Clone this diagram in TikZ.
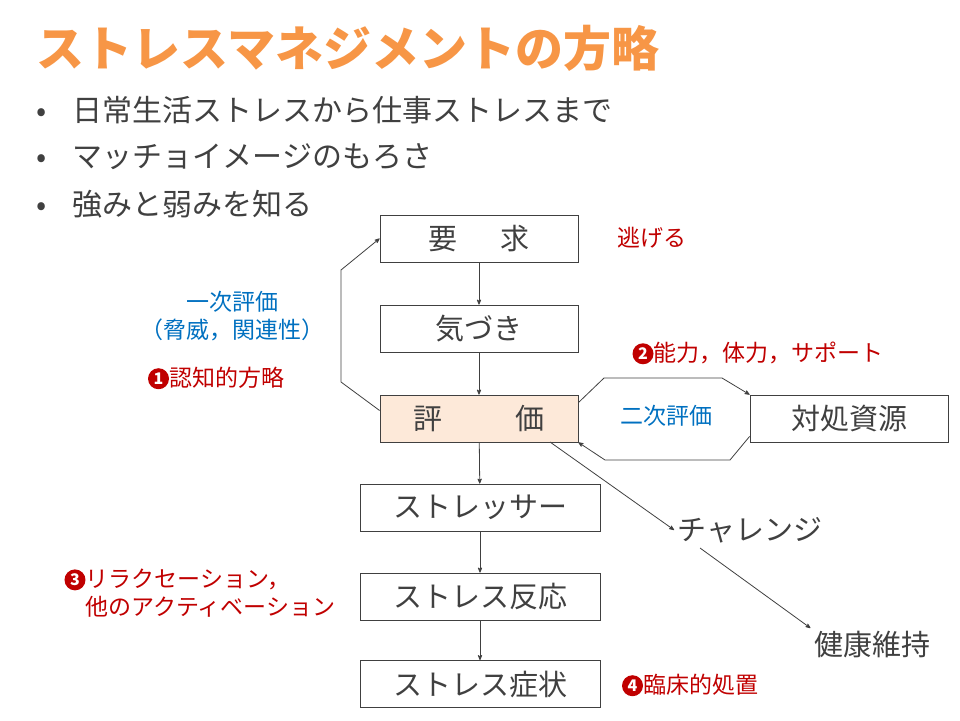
\documentclass[tikz,border=0pt]{standalone}
\usepackage{fontspec}
\setmainfont{Noto Sans CJK JP}
\usetikzlibrary{arrows}
\definecolor{titleor}{HTML}{F79646}
\definecolor{txtgray}{HTML}{404040}
\definecolor{darkred}{HTML}{C00000}
\definecolor{linkblue}{HTML}{0070C0}
\definecolor{peach}{HTML}{FDE9D9}
\tikzset{
    box/.style = {draw=txtgray, thick, minimum height=47pt, inner sep=0pt, text=txtgray, font=\fontsize{29}{32}\selectfont},
    sbox/.style = {box, minimum width=198pt},
    wbox/.style = {box, minimum width=240pt},
    bullet/.style = {anchor=west, text=txtgray, font=\fontsize{30}{34}\selectfont},
    redtxt/.style = {text=darkred, font=\fontsize{23}{28}\selectfont},
    bluetxt/.style = {text=linkblue, font=\fontsize{23}{28}\selectfont},
    conn/.style = {draw=txtgray, thick, ->, >=stealth'}
}
\newcommand{\numdot}[1]{\tikz[baseline=-0.6ex]\node[circle, fill=darkred, text=white, inner sep=0pt, minimum size=21pt, font=\bfseries\fontsize{16}{16}\selectfont] {#1};}
\begin{document}
\begin{tikzpicture}[x=1pt, y=-1pt]
    \useasboundingbox (0,0) rectangle (960,720);
    \node [anchor=west, text=titleor, font=\bfseries\fontsize{48}{52}\selectfont] (title) at (33,48) {ストレスマネジメントの方略};
    \node [bullet] (b1) at (33,110) {•\hspace{26pt}日常生活ストレスから仕事ストレスまで};
    \node [bullet] (b2) at (33,157) {•\hspace{26pt}マッチョイメージのもろさ};
    \node [bullet] (b3) at (33,204) {•\hspace{26pt}強みと弱みを知る};
    % main column
    \node [sbox] (req) at (479,238.5) {要\hspace{1.5em}求};
    \node [sbox] (aware) at (479,328.5) {気づき};
    \node [sbox, fill=peach] (eval) at (479,418.5) {評\hspace{2.5em}価};
    \node [wbox] (stressor) at (480,507.5) {ストレッサー};
    \node [wbox] (react) at (480,596.5) {ストレス反応};
    \node [wbox] (sympt) at (480,684) {ストレス症状};
    \node [sbox] (res) at (849,418.5) {対処資源};
    \draw [conn] (req) -- (aware);
    \draw [conn] (aware) -- (eval);
    \draw [conn] (eval) -- (stressor);
    \draw [conn] (stressor) -- (react);
    \draw [conn] (react) -- (sympt);
    % loops
    \draw [conn] (eval.west) ++(0,-8) -- (341,382) -- (341,270) -- (req.west);
    \draw [conn] (eval.north east) ++(0,8) -- (604,378) -- (722,378) -- (res.north west);
    \draw [conn] (res.south west) ++(0,-6) -- (730,460) -- (605,460) -- (eval.south east);
    \node [bluetxt] (second) at (666,416) {二次評価};
    % challenge branch
    \node [text=txtgray, font=\fontsize{29}{32}\selectfont] (chal) at (750,530) {チャレンジ};
    \node [text=txtgray, font=\fontsize{29}{32}\selectfont] (health) at (872,645) {健康維持};
    \coordinate (evout) at (550,442);
    \draw [conn] (evout) -- (chal.west);
    \draw [conn] (700,548) -- (health.north west);
    % labels
    \node [redtxt] (flee) at (652,238) {逃げる};
    \node [bluetxt, align=center] (first) at (232,316) {一次評価\\（脅威，関連性）};
    \node [redtxt] (s1) at (216,378) {\numdot{1}認知的方略};
    \node [redtxt] (s2) at (758,353) {\numdot{2}能力，体力，サポート};
    \node [redtxt, align=left] (s3) at (200,593) {\numdot{3}リラクセーション，\\\hspace{21pt}他のアクティベーション};
    \node [redtxt] (s4) at (690,685) {\numdot{4}臨床的処置};
\end{tikzpicture}
\end{document}
